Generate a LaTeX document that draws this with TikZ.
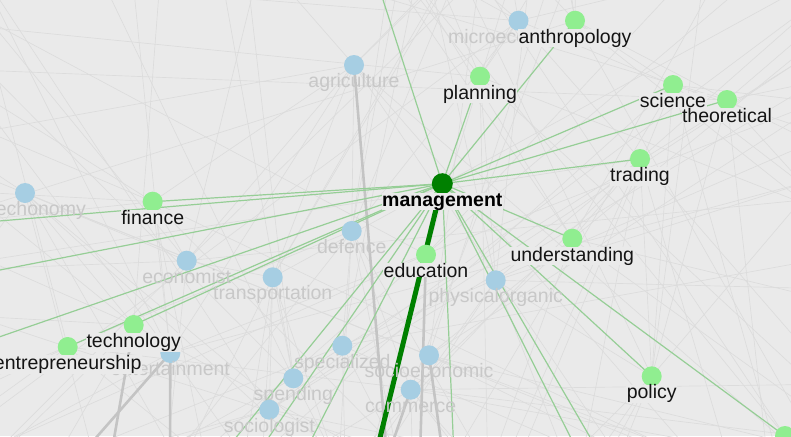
\documentclass[tikz,border=0pt]{standalone}
\usepackage{fontspec}
\setmainfont{Liberation Sans}
\definecolor{bgc}{RGB}{234,234,234}
\definecolor{nblue}{RGB}{166,206,227}
\definecolor{ngreen}{RGB}{144,238,144}
\definecolor{dgreen}{RGB}{0,128,0}
\definecolor{egreen}{RGB}{150,206,150}
\definecolor{lgrey}{RGB}{200,200,200}
\definecolor{tgrey}{RGB}{196,196,196}
\definecolor{fgrey}{RGB}{220,220,220}
\newcommand\vnode[6]{%
  \node[#2] (#1) at (#3,#4) {};
  \node[#5] (#1-lab) at (#3,#4+22.5) {#6};}
\pgfdeclarelayer{bglayer}
\pgfdeclarelayer{edges}
\pgfsetlayers{bglayer,edges,main}
\begin{document}
\begin{tikzpicture}[x=1pt,y=-1pt,
  bnode/.style={circle,fill=nblue,minimum size=20pt,inner sep=0pt},
  gnode/.style={circle,fill=ngreen,minimum size=20pt,inner sep=0pt},
  mnode/.style={circle,fill=dgreen,minimum size=21pt,inner sep=0pt},
  lab/.style={anchor=base,inner sep=0pt,font=\fontsize{19.5}{22}\selectfont},
  glab/.style={lab,text=lgrey},
  klab/.style={lab,text=black!92,fill=bgc,inner xsep=0.5pt,inner ysep=0pt},
  mlab/.style={klab,text=black,font=\fontsize{19.5}{22}\selectfont\bfseries},
  faint/.style={draw=fgrey,line width=0.65pt},
  gedge/.style={draw=tgrey,line width=2.6pt},
  tedge/.style={draw=egreen,line width=1.2pt},
  hedge/.style={draw=dgreen,line width=5pt}]
\begin{pgfonlayer}{bglayer}
\fill[bgc] (0,0) rectangle (791,436);
\end{pgfonlayer}
\useasboundingbox (0,0) rectangle (791,436);
\clip (0,0) rectangle (791,436);
% blue nodes
\vnode{agriculture}{bnode}{354}{65}{glab}{agriculture}
\vnode{microec}{bnode}{518.5}{20.7}{glab}{microeconomics}
\node[bnode] (echonomy) at (25,193) {};
\node[glab,anchor=base east] (echonomy-lab) at (86,215.5) {echonomy};
\vnode{defence}{bnode}{351.7}{231}{glab}{defence}
\vnode{economist}{bnode}{186.7}{260.7}{glab}{economist}
\vnode{transportation}{bnode}{272.7}{277.3}{glab}{transportation}
\vnode{entertainment}{bnode}{170.3}{353}{glab}{entertainment}
\vnode{specialized}{bnode}{342.3}{345.7}{glab}{specialized}
\vnode{spending}{bnode}{293.3}{378.3}{glab}{spending}
\vnode{sociologist}{bnode}{269.3}{409.7}{glab}{sociologist}
\vnode{physicalorganic}{bnode}{495.7}{280.3}{glab}{physicalorganic}
\vnode{socioeconomic}{bnode}{429}{355.3}{glab}{socioeconomic}
\vnode{commerce}{bnode}{410.7}{389.7}{glab}{commerce}
% green nodes
\vnode{anthropology}{gnode}{575}{20.7}{klab}{anthropology}
\vnode{planning}{gnode}{480}{76.7}{klab}{planning}
\vnode{science}{gnode}{673}{85}{klab}{science}
\vnode{theoretical}{gnode}{727}{100}{klab}{theoretical}
\vnode{trading}{gnode}{640}{159}{klab}{trading}
\vnode{finance}{gnode}{152.7}{201.7}{klab}{finance}
\vnode{understanding}{gnode}{572.3}{238.7}{klab}{understanding}
\vnode{education}{gnode}{426}{254.7}{klab}{education}
\vnode{technology}{gnode}{133.7}{325}{klab}{technology}
\vnode{entrepreneurship}{gnode}{67.7}{347}{klab}{entrepreneurship}
\vnode{policy}{gnode}{651.7}{376.3}{klab}{policy}
\node[gnode] (corner) at (785,436) {};
% management
\vnode{management}{mnode}{442.3}{183.7}{mlab}{management}
% free ends
\coordinate (t1) at (376.6,-20);
\coordinate (l1) at (-40,224.3);
\coordinate (l2) at (-40,277.8);
\coordinate (l3) at (-40,350.5);
\coordinate (b1) at (221,456);
\coordinate (b2) at (256,456);
\coordinate (b3) at (303,456);
\coordinate (b4) at (454,456);
\coordinate (b5) at (580,456);
\coordinate (b6) at (601,456);
\coordinate (bh) at (375.5,456);
\coordinate (ga) at (387,456);
\coordinate (ge) at (420,456);
\coordinate (gs) at (443,456);
\coordinate (gc) at (388,456);
\coordinate (gt) at (111,456);
\coordinate (gn1) at (170,456);
\coordinate (gn2) at (80,456);
\begin{pgfonlayer}{edges}
\pgfmathsetseed{7}
\foreach \n in {agriculture,microec,echonomy,defence,economist,transportation,entertainment,specialized,spending,sociologist,physicalorganic,socioeconomic,commerce,anthropology,planning,science,theoretical,trading,finance,understanding,education,technology,entrepreneurship,policy,corner}{
  \foreach \k in {1,...,7}{
    \pgfmathsetmacro\ang{rnd*360}
    \draw[faint] (\n.center) -- ++(\ang:1000);
  }
}
\foreach \a/\b in {agriculture/finance,agriculture/economist,agriculture/transportation,agriculture/entertainment,agriculture/defence,microec/planning,microec/science,anthropology/theoretical,anthropology/science,trading/policy,trading/understanding,trading/physicalorganic,science/policy,theoretical/policy,understanding/socioeconomic,finance/economist,finance/entertainment,economist/transportation,transportation/spending,transportation/sociologist,defence/commerce,defence/specialized,echonomy/technology,echonomy/economist,planning/physicalorganic,understanding/commerce,policy/physicalorganic,microec/trading}
  \draw[faint] (\a.center) -- (\b.center);
\draw[gedge] (agriculture.center) -- (ga);
\draw[gedge] (education.center) -- (ge);
\draw[gedge] (socioeconomic.center) -- (gs);
\draw[gedge] (commerce.center) -- (gc);
\draw[gedge] (technology.center) -- (gt);
\draw[gedge] (entertainment.center) -- (gn1);
\draw[gedge] (entertainment.center) -- (gn2);
\foreach \t in {t1,l1,l2,l3,b1,b2,b3,b4,b5,b6}
  \draw[tedge] (management.center) -- (\t);
\foreach \t in {anthropology,planning,science,theoretical,trading,finance,technology,entrepreneurship,understanding,policy,corner}
  \draw[tedge] (management.center) -- (\t.center);
\draw[hedge] (management.center) -- (bh);
\end{pgfonlayer}
\end{tikzpicture}
\end{document}
